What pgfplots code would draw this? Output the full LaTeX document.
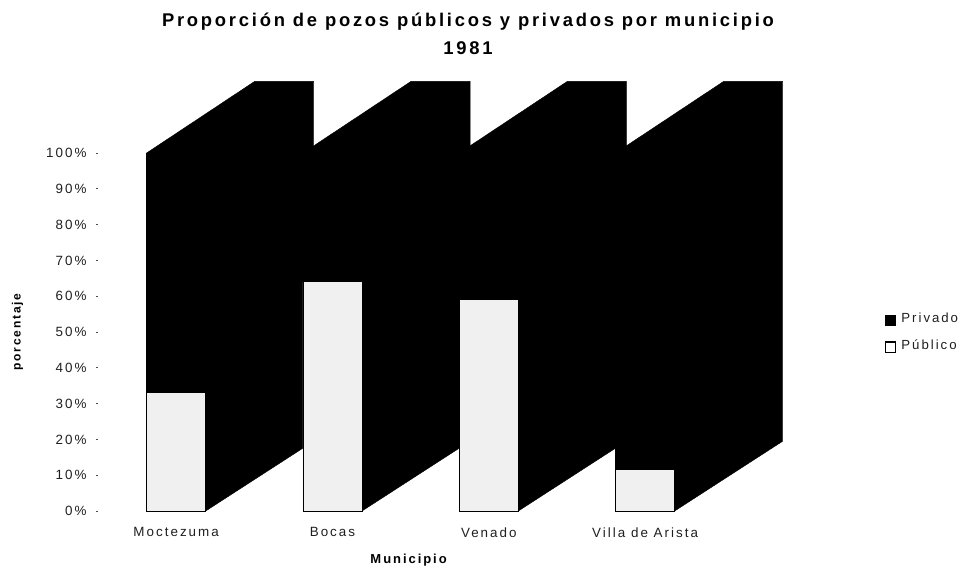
\documentclass[border=0pt]{standalone}
\usepackage{fontspec}
\setmainfont{Liberation Sans}[LetterSpace=15]
\usepackage{pgfplots}
\pgfplotsset{compat=1.18}
\definecolor{txt}{gray}{0.12}
\pgfplotsset{base/.style={
  at={(98pt,56pt)},anchor=south west,
  scale only axis,width=766pt,height=358pt,
  xmin=-0.5,xmax=4.4,ymin=0,ymax=100,clip=false}}
\begin{document}
\begin{tikzpicture}[x=1pt,y=1pt]
\useasboundingbox (0,0) rectangle (961,567);
% depth faces of the 3-D columns
\begin{axis}[base,hide axis]
\addplot[fill=black,draw=black] coordinates {(-0.189,100)(0.502,120)(0.88,120)(0.88,19.5)(0.189,0)} -- cycle;
\addplot[fill=black,draw=black] coordinates {(0.811,100)(1.502,120)(1.88,120)(1.88,19.5)(1.189,0)} -- cycle;
\addplot[fill=black,draw=black] coordinates {(1.811,100)(2.502,120)(2.88,120)(2.88,19.5)(2.189,0)} -- cycle;
\addplot[fill=black,draw=black] coordinates {(2.811,100)(3.502,120)(3.88,120)(3.88,19.5)(3.189,0)} -- cycle;
\end{axis}
% front faces
\begin{axis}[base,
  ybar stacked,bar width=59pt,
  axis line style={draw=none},
  xtick={0,1,2,3},xticklabels={Moctezuma,Bocas,Venado,Villa de Arista},
  ytick={0,10,...,100},
  yticklabels={0\%,10\%,20\%,30\%,40\%,50\%,60\%,70\%,80\%,90\%,100\%},
  x tick style={draw=none},
  y tick style={draw=black!70,line width=0.8pt},
  major tick length=2pt,
  tick pos=left,
  tick align=outside,
  every tick label/.append style={font=\fontsize{13.4}{15}\selectfont,text=txt},
  x tick label style={yshift=-11pt},
  y tick label style={xshift=-6pt},
  title={Proporción de pozos públicos y privados por municipio\\1981},
  title style={at={(0.483,1.315)},anchor=center,align=center,
    font=\fontsize{18.4}{28}\selectfont\bfseries},
  xlabel={Municipio},
  xlabel style={at={(0.4055,-0.138)},anchor=center,font=\fontsize{13}{15}\selectfont\bfseries},
  ylabel={porcentaje},
  ylabel style={at={(-0.105,0.5)},anchor=center,rotate=0,font=\fontsize{12}{14}\selectfont\bfseries},
  legend style={at={(1.0255,0.5)},anchor=west,draw=none,fill=none,inner sep=1pt,
    font=\fontsize{13.2}{15}\selectfont,text=txt,row sep=11pt,
    /tikz/column 1/.style={column sep=3pt},
    legend cell align=left},
  legend image code/.code={\draw[#1,line width=1.3pt,yshift=-2pt] (0pt,-5.2pt) rectangle (10.4pt,5.2pt);}
]
\addlegendimage{fill=black,draw=black}
\addlegendentry{Privado}
\addlegendimage{fill=white,draw=black}
\addlegendentry{Público}
\addplot[fill=black!6,draw=black,line width=0.8pt,forget plot] coordinates {(0,33)(1,64)(2,59)(3,11.5)};
\addplot[fill=black,draw=black,forget plot] coordinates {(0,67)(1,36)(2,41)(3,88.5)};
\end{axis}
\end{tikzpicture}
\end{document}
